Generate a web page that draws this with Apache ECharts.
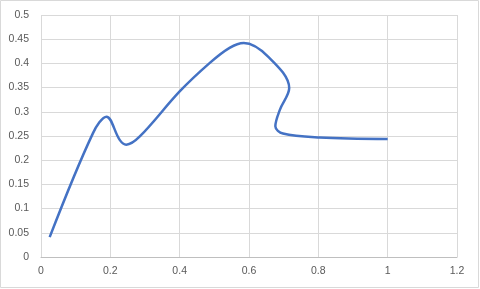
<!DOCTYPE html>
<html>
<head>
<meta charset="utf-8">
<script src="https://cdn.jsdelivr.net/npm/echarts@6/dist/echarts.min.js"></script>
<style>
  html, body { margin: 0; padding: 0; background: #fff; }
  #chart { width: 480px; height: 289px; }
</style>
</head>
<body>
<div id="chart"></div>
<script>
// points (x, y)
const xData = [0.025, 0.15, 0.189, 0.227, 0.246, 0.285, 0.40, 0.487, 0.544, 0.585, 0.655, 0.716, 0.689, 0.676, 0.698, 0.804, 1.0];
const yData = [0.041, 0.256, 0.29, 0.242, 0.232, 0.249, 0.342, 0.401, 0.432, 0.442, 0.414, 0.349, 0.304, 0.27, 0.255, 0.247, 0.244];

const chart = echarts.init(document.getElementById('chart'));

const labelStyle = {
    color: '#595959',
    fontFamily: 'Liberation Sans',
    fontSize: 10.5
};

let option = {
    animation: false,
    graphic: [{
        type: 'rect',
        shape: { x: 0.5, y: 0.5, width: 478, height: 287 },
        style: { fill: 'none', stroke: '#d9d9d9', lineWidth: 1 },
        silent: true
    }],
    grid: {
        left: 41,
        top: 15,
        width: 416,
        height: 242
    },
    xAxis: {
        type: 'value',
        min: 0,
        max: 1.2,
        interval: 0.2,
        axisLine: { show: true, lineStyle: { color: '#bfbfbf', width: 1 } },
        axisTick: { show: false },
        axisLabel: Object.assign({ margin: 9 }, labelStyle),
        splitLine: { show: true, lineStyle: { color: '#d9d9d9', width: 1 } }
    },
    yAxis: {
        type: 'value',
        min: 0,
        max: 0.5,
        interval: 0.05,
        axisLine: { show: false },
        axisTick: { show: false },
        axisLabel: Object.assign({
            margin: 12,
            formatter: function (v) { return String(Math.round(v * 100) / 100); }
        }, labelStyle),
        splitLine: { show: true, lineStyle: { color: '#d9d9d9', width: 1 } }
    },
    series: [{
        type: 'line',
        data: xData.map((x, i) => [x, yData[i]]),
        smooth: 0.35,
        showSymbol: false,
        lineStyle: { color: '#4472c4', width: 2.5 }
    }]
};

chart.setOption(option);
</script>
</body>
</html>
